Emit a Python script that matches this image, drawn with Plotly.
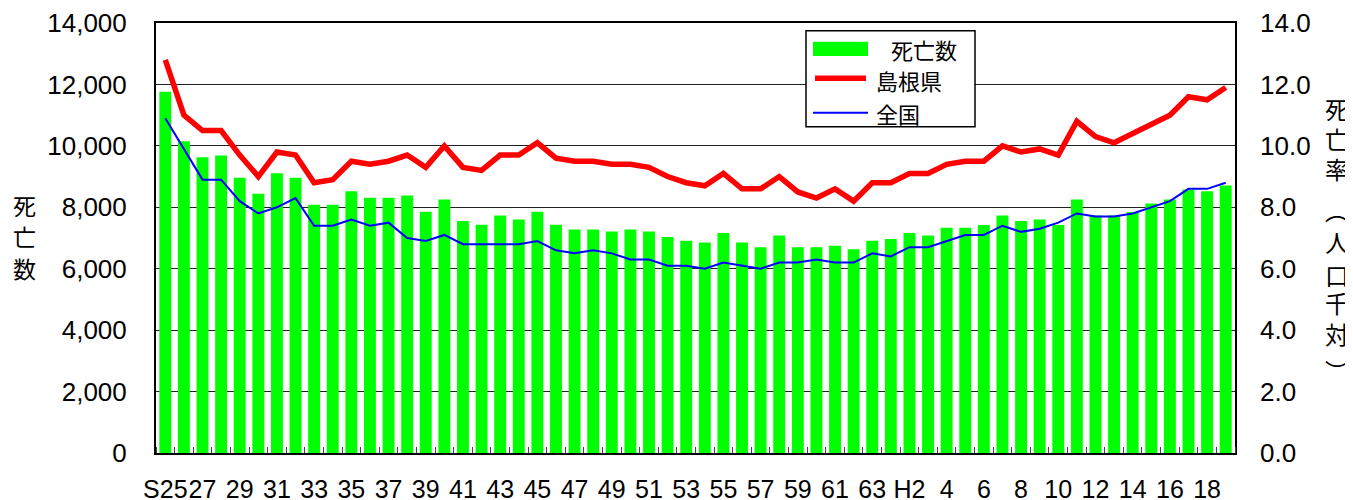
import plotly.graph_objects as go

# ---- data ----
years = ([f"S{y}" for y in range(25, 64)] + [f"H{y}" for y in range(1, 20)])
deaths = [11765, 10150, 9630, 9685, 8960, 8440, 9110, 8960, 8080, 8080,
          8525, 8310, 8310, 8385, 7855, 8255, 7550, 7430,
          7735, 7605, 7855, 7430, 7280, 7280, 7215, 7280, 7215, 7030,
          6910, 6850, 7160, 6850, 6695, 7085, 6695, 6695,
          6750, 6630, 6910,
          6965, 7160, 7085, 7335, 7335, 7420, 7735, 7550, 7605, 7420,
          8255, 7735, 7735, 7845, 8125, 8255, 8580, 8525, 8710]
shimane = [12.8, 11.0, 10.5, 10.5, 9.7, 9.0, 9.8, 9.7, 8.8, 8.9,
           9.5, 9.4, 9.5, 9.7, 9.3, 10.0, 9.3, 9.2,
           9.7, 9.7, 10.1, 9.6, 9.5, 9.5, 9.4, 9.4, 9.3, 9.0,
           8.8, 8.7, 9.1, 8.6, 8.6, 9.0, 8.5, 8.3,
           8.6, 8.2, 8.8,
           8.8, 9.1, 9.1, 9.4, 9.5, 9.5, 10.0, 9.8, 9.9, 9.7,
           10.8, 10.3, 10.1, 10.4, 10.7, 11.0, 11.6, 11.5, 11.9]
national = [10.9, 9.9, 8.9, 8.9, 8.2, 7.8, 8.0, 8.3, 7.4, 7.4,
            7.6, 7.4, 7.5, 7.0, 6.9, 7.1, 6.8, 6.8,
            6.8, 6.8, 6.9, 6.6, 6.5, 6.6, 6.5, 6.3, 6.3, 6.1,
            6.1, 6.0, 6.2, 6.1, 6.0, 6.2, 6.2, 6.3,
            6.2, 6.2, 6.5,
            6.4, 6.7, 6.7, 6.9, 7.1, 7.1, 7.4, 7.2, 7.3, 7.5,
            7.8, 7.7, 7.7, 7.8, 8.0, 8.2, 8.6, 8.6, 8.8]
tick_text = ["S25", "27", "29", "31", "33", "35", "37", "39", "41", "43",
             "45", "47", "49", "51", "53", "55", "57", "59", "61", "63",
             "H2", "4", "6", "8", "10", "12", "14", "16", "18"]
legend_names = ["死亡数", "島根県", "全国"]
left_title = "死亡数"
right_title = "死亡率︵人口千対︶"

x = list(range(len(years)))
labelled = [f"S{t}" for t in range(25, 64, 2)] + [f"H{t}" for t in range(2, 20, 2)]
tick_vals = [i for i, y in enumerate(years) if y in labelled]

FONT = "Liberation Sans, Arial, Noto Sans CJK JP, sans-serif"
W, H = 1353, 500
OFF = 8  # page body margin
PL, PR, PT, PB = 156, 1235, 23, 453  # plot area in screen pixels
L, T = PL - OFF, PT - OFF
R = W - (PR - OFF)
B = H - (PB - OFF)


def px(xs):
    return (xs - PL) / (PR - PL)


def py(ys):
    return (PB - ys) / (PB - PT)


fig = go.Figure()
fig.add_trace(go.Bar(x=x, y=deaths, name=legend_names[0], marker_color="#00FF00",
                     marker_line_width=0, yaxis="y", showlegend=False))
fig.add_trace(go.Scatter(x=x, y=national, name=legend_names[2], mode="lines",
                         line=dict(color="#0000FF", width=2), yaxis="y2", showlegend=False))
fig.add_trace(go.Scatter(x=x, y=shimane, name=legend_names[1], mode="lines",
                         line=dict(color="#FF0000", width=5.5), yaxis="y2", showlegend=False))

fig.update_layout(
    width=W, height=H,
    margin=dict(l=L, r=R, t=T, b=B, autoexpand=False),
    paper_bgcolor="white", plot_bgcolor="white",
    font=dict(family=FONT, size=24, color="black"),
    bargap=0.36,
    xaxis=dict(range=[-0.5, len(years) - 0.5], tickmode="array", tickvals=tick_vals,
               ticktext=tick_text, ticks="", showgrid=False, zeroline=False,
               showline=True, linecolor="black", linewidth=2, mirror=True,
               automargin=False, tickangle=0,
               ticklabelstandoff=13, tickfont=dict(size=25),
               minor=dict(tick0=0.5, dtick=1, ticks="inside", ticklen=6,
                          tickcolor="#444444", tickwidth=1, showgrid=False)),
    yaxis=dict(range=[0, 14000], dtick=2000, tickformat=",", showgrid=True,
               gridcolor="#222222", gridwidth=1.2, zeroline=False,
               showline=True, linecolor="black", linewidth=2, mirror=True,
               automargin=False,
               ticks="", ticklabelstandoff=22, tickfont=dict(size=26)),
    yaxis2=dict(range=[0, 14], dtick=2, tickformat=".1f", overlaying="y", side="right",
                showgrid=False, zeroline=False, showline=False, ticks="",
                automargin=False,
                ticklabelstandoff=24, tickfont=dict(size=26)),
)

# custom legend
shapes = [
    dict(type="rect", xref="paper", yref="paper", x0=px(806), x1=px(975),
         y0=py(126.7), y1=py(30.7), line=dict(color="black", width=1.5),
         fillcolor="white", layer="above"),
    dict(type="rect", xref="paper", yref="paper", x0=px(813), x1=px(868),
         y0=py(56), y1=py(41.7), line=dict(width=0), fillcolor="#00FF00", layer="above"),
    dict(type="line", xref="paper", yref="paper", x0=px(815), x1=px(866),
         y0=py(78.3), y1=py(78.3), line=dict(color="#FF0000", width=5.5), layer="above"),
    dict(type="line", xref="paper", yref="paper", x0=px(813), x1=px(868),
         y0=py(112.7), y1=py(112.7), line=dict(color="#0000FF", width=2), layer="above"),
]
fig.update_layout(shapes=shapes)

ann = [
    dict(text=legend_names[0], x=px(889), y=py(51), xanchor="left", yanchor="middle", size=22),
    dict(text=legend_names[1], x=px(874), y=py(82), xanchor="left", yanchor="middle", size=22),
    dict(text=legend_names[2], x=px(874), y=py(115), xanchor="left", yanchor="middle", size=22),
]
for ch, yc in zip(left_title, [207, 238, 270]):
    ann.append(dict(text=ch, x=px(24), y=py(yc), xanchor="center", yanchor="middle", size=23))
for ch, yc in zip(right_title, [110, 140, 170, 212, 243, 276, 305, 335, 372]):
    ann.append(dict(text=ch, x=px(1337), y=py(yc), xanchor="center", yanchor="middle", size=24))

for a in ann:
    sz = a.pop("size")
    fig.add_annotation(xref="paper", yref="paper", showarrow=False,
                       font=dict(family=FONT, size=sz, color="black"), **a)

fig.write_html("out.html")
